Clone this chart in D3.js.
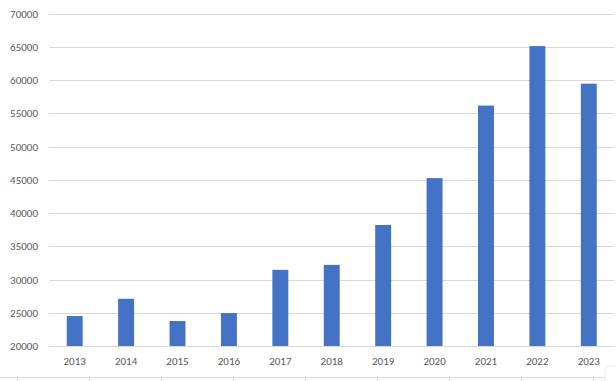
<!DOCTYPE html>
<html><head><meta charset="utf-8">
<script src="https://cdn.jsdelivr.net/npm/d3@7"></script>
<style>html,body{margin:0;padding:0;background:#fff;overflow:hidden}</style>
</head><body>
<svg id="c" width="616" height="381"></svg>
<script>
const years = ["2013","2014","2015","2016","2017","2018","2019","2020","2021","2022","2023"];
const values = [24500,27100,23750,24950,31450,32200,38200,45250,56150,65100,59450];
const yTicks = [20000,25000,30000,35000,40000,45000,50000,55000,60000,65000,70000];

const svg = d3.select("#c");
const m = {left:49, right:1.5, top:13.5, bottom:35};
const W = 616, H = 381;
const x = d3.scaleBand().domain(years).range([m.left, W - m.right]).paddingInner(0.69).paddingOuter(0.345);
const y = d3.scaleLinear().domain([20000,70000]).range([346, 13.5]);

const font = "Calibri, Carlito, 'Open Sans', sans-serif";

const g = svg.append("g");
g.selectAll("line.grid").data(yTicks).join("line")
  .attr("x1", m.left).attr("x2", W - m.right)
  .attr("y1", d => Math.round(y(d)) + 0.5).attr("y2", d => Math.round(y(d)) + 0.5)
  .attr("stroke", "#d9d9d9").attr("stroke-width", 1);

g.selectAll("text.yl").data(yTicks).join("text")
  .attr("x", 38).attr("y", d => y(d) + 4)
  .attr("text-anchor", "end").attr("font-family", font).attr("font-size", 11)
  .attr("fill", "#595959").text(d => d);

g.selectAll("rect").data(years).join("rect")
  .attr("x", d => x(d)).attr("width", x.bandwidth())
  .attr("y", (d,i) => y(values[i])).attr("height", (d,i) => y(20000) - y(values[i]))
  .attr("fill", "#4472c4");

g.selectAll("text.xl").data(years).join("text")
  .attr("x", d => x(d) + x.bandwidth()/2).attr("y", 365)
  .attr("text-anchor", "middle").attr("font-family", font).attr("font-size", 11)
  .attr("fill", "#595959").text(d => d);

// bottom sheet line with ticks
svg.append("line").attr("x1",0).attr("x2",W).attr("y1",377.5).attr("y2",377.5).attr("stroke","#d9d9d9");
const bt = d3.range(17, W, 72);
svg.selectAll("line.bt").data(bt).join("line")
  .attr("x1", d => d + 0.5).attr("x2", d => d + 0.5).attr("y1", 377).attr("y2", 381)
  .attr("stroke", "#d9d9d9");
// faint rounded corner at bottom right
svg.append("rect").attr("x",605).attr("y",366).attr("width",20).attr("height",30).attr("rx",6)
  .attr("fill","#fff").attr("stroke","#ececec");
</script>
</body></html>
